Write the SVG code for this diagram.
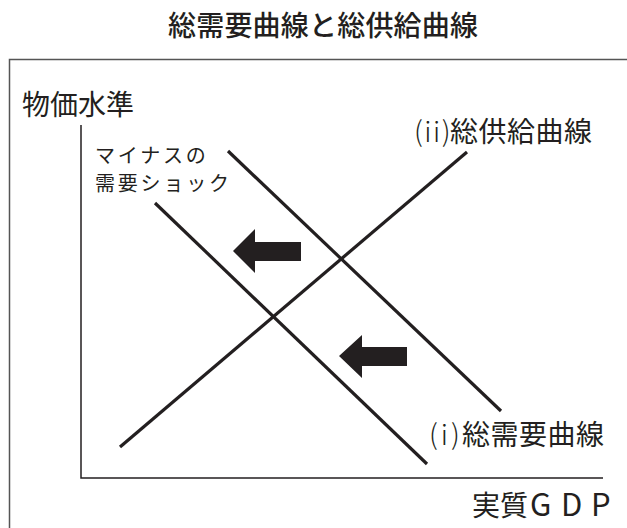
<svg xmlns="http://www.w3.org/2000/svg" width="627" height="528" viewBox="0 0 627 528">
<style>
.t{font-family:"Noto Sans CJK JP","Noto Sans",sans-serif;fill:#231f20}
.lbl{font-size:28px}
.sm{font-size:20px;letter-spacing:2.8px}
.par{font-weight:300}
.curve{stroke:#231f20;stroke-width:3.2;fill:none;stroke-linecap:butt}
.arrow{fill:#231f20}
</style>
<rect width="627" height="528" fill="#ffffff"/>
<g id="title"><text class="t" x="168" y="36" font-size="28" font-weight="500" textLength="310" lengthAdjust="spacing">総需要曲線と総供給曲線</text></g>
<g id="frame"><path d="M9.5,530 V59.5 H630" fill="none" stroke="#555" stroke-width="1.5"/></g>
<g id="axes"><path d="M81,125 V478 H603" fill="none" stroke="#231f20" stroke-width="1.5"/></g>
<g id="label-y"><text class="t lbl" x="22" y="115">物価水準</text></g>
<g id="label-x"><text class="t lbl" y="516"><tspan x="472">実質</tspan><tspan x="530" font-size="31">G</tspan><tspan x="561" font-size="31">D</tspan><tspan x="591" font-size="31">P</tspan></text></g>
<g id="label-shock"><text class="t sm" x="95" y="163">マイナスの</text><text class="t sm" x="95" y="191">需要ショック</text></g>
<g id="label-as"><text class="t lbl" y="142"><tspan x="414" class="par" letter-spacing="1.5">(ii)</tspan><tspan x="450" letter-spacing="0.5">総供給曲線</tspan></text></g>
<g id="label-ad"><text class="t lbl" y="445"><tspan x="429" class="par" letter-spacing="3">(i)</tspan><tspan x="462" letter-spacing="0.5">総需要曲線</tspan></text></g>
<g id="connectors">
<line id="as-curve" class="curve" x1="120" y1="447" x2="467" y2="152"/>
<line id="ad-original" class="curve" x1="228" y1="151" x2="501" y2="411"/>
<line id="ad-shifted" class="curve" x1="155" y1="203" x2="427" y2="464"/>
<polygon id="arrow-upper" class="arrow" points="233,251 255,229 255,242 301,242 301,261 255,261 255,273"/>
<polygon id="arrow-lower" class="arrow" points="339,356 362,335 362,347 407,347 407,366 362,366 362,378"/>
</g>
</svg>
